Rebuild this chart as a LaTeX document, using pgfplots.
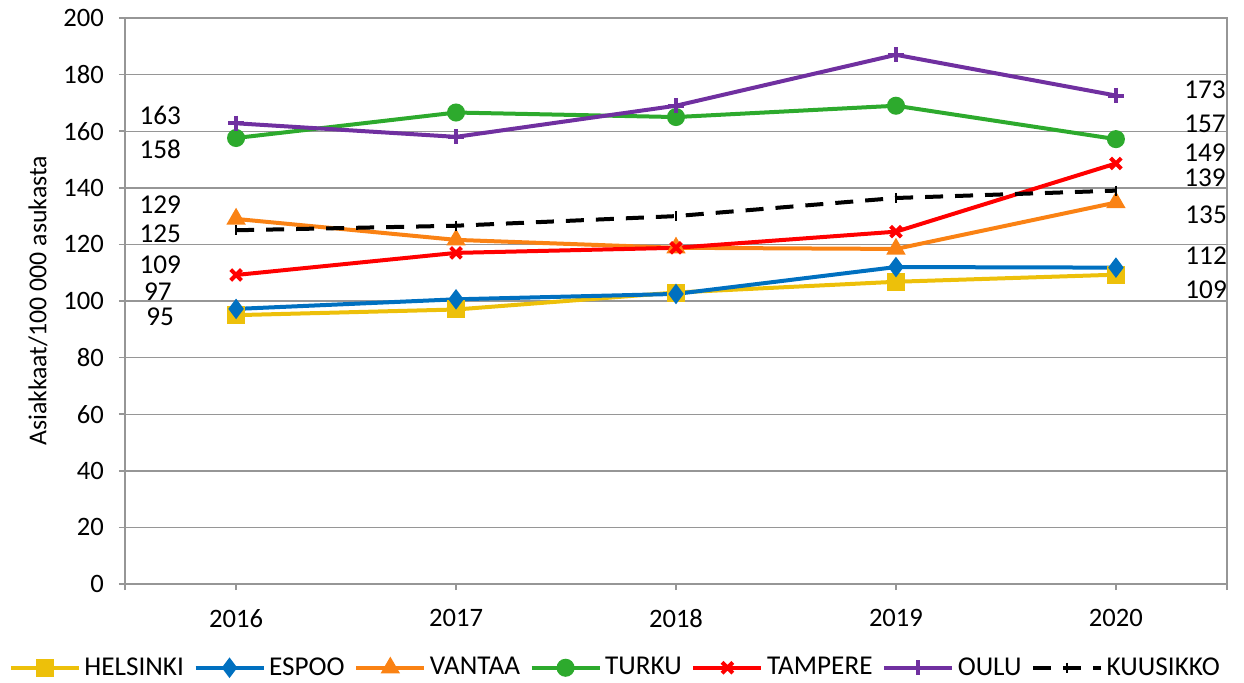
\documentclass[border=0pt]{standalone}
\usepackage{pgfplots}
\pgfplotsset{compat=1.18}
\usepackage{fontspec}
\setmainfont{Carlito}
\definecolor{hel}{RGB}{237,192,10}
\definecolor{esp}{RGB}{0,112,192}
\definecolor{van}{RGB}{250,130,20}
\definecolor{tur}{RGB}{45,170,45}
\definecolor{tam}{RGB}{255,0,0}
\definecolor{oul}{RGB}{112,48,160}
\definecolor{gridc}{RGB}{150,150,150}
\begin{document}
\begin{tikzpicture}
\useasboundingbox (-62.5pt,-49pt) rectangle (559.5pt,292pt);
\begin{axis}[
  at={(0pt,0pt)}, anchor=south west,
  scale only axis, width=551pt, height=283pt,
  xmin=-0.505, xmax=4.505, ymin=0, ymax=200,
  xtick={0,1,2,3,4}, xticklabels={2016,2017,2018,2019,2020},
  extra x ticks={-0.505,4.505}, extra x tick labels={},
  extra x tick style={grid=none},
  ytick={0,20,...,200},
  ymajorgrids, grid style={gridc, line width=0.7pt},
  axis line style={gridc, line width=0.8pt},
  tick style={gridc, line width=0.8pt},
  tick align=outside, major tick length=3pt,
  xtick pos=bottom, ytick pos=left,
  /pgf/number format/assume math mode=true,
  ticklabel style={font=\fontsize{13.3}{14}\selectfont, text=black},
  xticklabel style={yshift=-6pt},
  yticklabel style={xshift=-4pt},
  ylabel={Asiakkaat/100 000 asukasta},
  ylabel style={at={(axis description cs:-0.079,0.5)}, anchor=center, font=\fontsize{12.9}{13}\selectfont},
  legend columns=7,
  legend style={at={(axis description cs:0.4456,-0.148)}, anchor=center, draw=none, fill=none,
    font=\fontsize{13.6}{15}\selectfont, inner sep=0pt,
    /tikz/every even column/.append style={column sep=3pt},
    nodes={inner sep=1.8pt}},
  legend image code/.code={\draw[mark repeat=2,mark phase=2,#1] plot coordinates {(0pt,0pt) (17pt,0pt) (34pt,0pt)};},
  every axis plot/.append style={line width=2pt},
]
\addplot[hel, mark=square*, mark size=3.5pt, mark options={solid}] coordinates {(0,95) (1,97) (2,103) (3,106.8) (4,109.3)};
\addlegendentry{HELSINKI}
\addplot[esp, mark=diamond*, mark size=3.5pt, mark options={solid}] coordinates {(0,97.2) (1,100.6) (2,102.5) (3,112) (4,111.8)};
\addlegendentry{ESPOO}
\addplot[van, mark=triangle*, mark size=3.6pt, mark options={solid}] coordinates {(0,129) (1,121.6) (2,118.8) (3,118.4) (4,134.8)};
\addlegendentry{VANTAA}
\addplot[tur, mark=*, mark size=3.5pt, mark options={solid}] coordinates {(0,157.6) (1,166.6) (2,165) (3,169) (4,157.2)};
\addlegendentry{TURKU}
\addplot[tam, mark=x, mark size=3.8pt, mark options={solid}] coordinates {(0,109.2) (1,117) (2,118.8) (3,124.5) (4,148.6)};
\addlegendentry{TAMPERE}
\addplot[oul, mark=+, mark size=3.8pt, mark options={solid}] coordinates {(0,162.8) (1,158) (2,169) (3,187) (4,172.6)};
\addlegendentry{OULU}
\addplot[black, dash pattern=on 9pt off 6pt, mark=|, mark size=2.5pt, mark options={solid, line width=0.8pt}] coordinates {(0,125) (1,126.6) (2,130) (3,136.4) (4,139)};
\addlegendentry{KUUSIKKO}
\begin{scope}[every node/.style={font=\fontsize{13.6}{14}\selectfont, anchor=center, inner sep=0pt}]
\node at (axis cs:-0.345,165.7) {163};
\node at (axis cs:-0.345,153.7) {158};
\node at (axis cs:-0.345,133.9) {129};
\node at (axis cs:-0.345,123.7) {125};
\node at (axis cs:-0.345,112.7) {109};
\node at (axis cs:-0.355,103.2) {97};
\node at (axis cs:-0.345,94.3) {95};
\node at (axis cs:4.405,174.6) {173};
\node at (axis cs:4.405,162.5) {157};
\node at (axis cs:4.405,152.3) {149};
\node at (axis cs:4.405,143.5) {139};
\node at (axis cs:4.41,130.4) {135};
\node at (axis cs:4.41,115.9) {112};
\node at (axis cs:4.41,103.9) {109};
\end{scope}
\end{axis}
\end{tikzpicture}
\end{document}
